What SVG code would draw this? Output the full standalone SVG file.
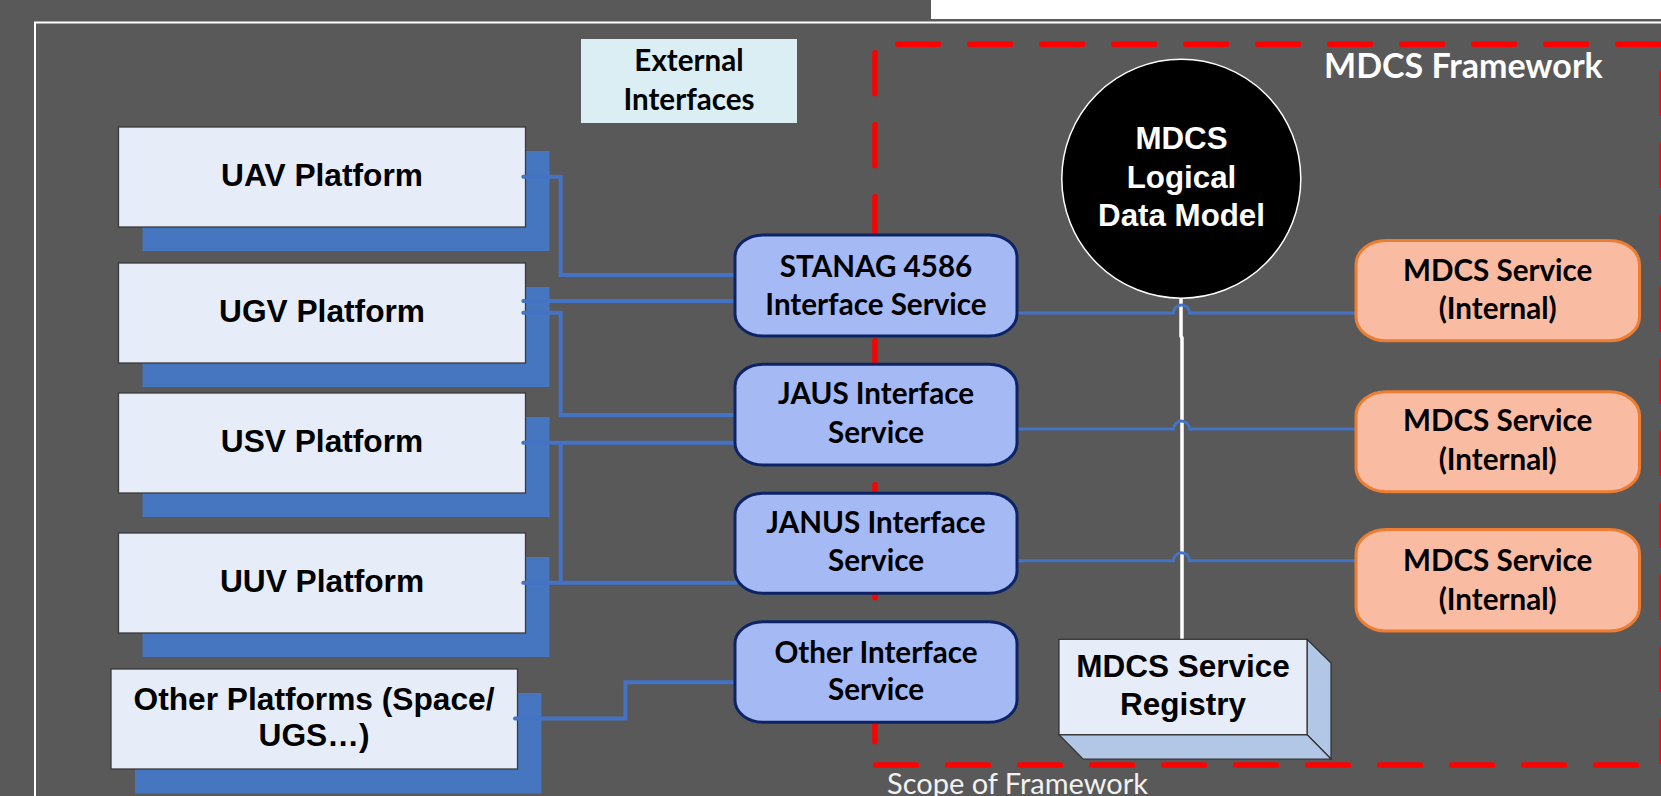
<svg xmlns="http://www.w3.org/2000/svg" width="1661" height="796" viewBox="0 0 1661 796">
<style>
.plat{fill:#E7EDF8;stroke:#3A3A3A;stroke-width:1.3}
.shadow{fill:#4676C0}
.ptxt{font-family:"Liberation Sans",Arial,sans-serif;font-weight:bold;font-size:31.7px;fill:#000;text-anchor:middle}
.iface{fill:#A5B9F5;stroke:#0C2466;stroke-width:3}
.svc{fill:#F9BBA1;stroke:#ED7D31;stroke-width:3}
.ctxt{font-family:Lato,"Open Sans",sans-serif;font-weight:bold;font-size:29.6px;fill:#000;text-anchor:middle}
.conn{fill:none;stroke:#4472C4;stroke-width:4;stroke-linecap:round}
.conn2{fill:none;stroke:#4472C4;stroke-width:3}
.red{fill:none;stroke:#FF0000;stroke-width:5.5;stroke-linecap:round;stroke-dasharray:41 31}
</style>
<rect width="1661" height="796" fill="#595959"/>
<rect x="931" y="0" width="730" height="19" fill="#FFFFFF"/>
<path d="M35 796 V22.5 H1661" fill="none" stroke="#FFFFFF" stroke-width="2"/>

<g id="scope-frame">
<path class="red" d="M897.75 44.3 H1661"/>
<path class="red" d="M875 52.75 V765"/>
<path class="red" d="M1662 72.75 V765"/>
<path class="red" d="M875.5 765 H1661"/>
<text x="887" y="794" font-family="Lato,'Open Sans',sans-serif" font-size="29" fill="#F2F2F2">Scope of Framework</text>
<text x="1324" y="78.3" font-family="Lato,'Open Sans',sans-serif" font-weight="bold" font-size="34" fill="#FFFFFF">MDCS Framework</text>
</g>

<g id="external-interfaces">
<rect x="581" y="39" width="216" height="84" fill="#DBEEF4"/>
<text class="ctxt" x="689" y="71">External</text>
<text class="ctxt" x="689" y="110">Interfaces</text>
</g>

<g id="uav">
<rect class="shadow" x="142.5" y="151" width="407" height="100"/>
<rect class="plat" x="118.5" y="127" width="407" height="100"/>
<text class="ptxt" x="322" y="186">UAV Platform</text>
</g>
<g id="ugv">
<rect class="shadow" x="142.5" y="287" width="407" height="100"/>
<rect class="plat" x="118.5" y="263" width="407" height="100"/>
<text class="ptxt" x="322" y="322">UGV Platform</text>
</g>
<g id="usv">
<rect class="shadow" x="142.5" y="417" width="407" height="100"/>
<rect class="plat" x="118.5" y="393" width="407" height="100"/>
<text class="ptxt" x="322" y="452">USV Platform</text>
</g>
<g id="uuv">
<rect class="shadow" x="142.5" y="557" width="407" height="100"/>
<rect class="plat" x="118.5" y="533" width="407" height="100"/>
<text class="ptxt" x="322" y="592">UUV Platform</text>
</g>
<g id="other-platforms">
<rect class="shadow" x="135" y="693" width="406.5" height="100.5"/>
<rect class="plat" x="111" y="669" width="406.5" height="100"/>
<text class="ptxt" x="314" y="710">Other Platforms (Space/</text>
<text class="ptxt" x="314" y="746">UGS…)</text>
</g>

<g id="connectors">
<path class="conn" d="M523.3 176.7 H560.7 V275 H736"/>
<path class="conn" d="M523.3 301 H736"/>
<path class="conn" d="M523.3 312.7 H560.7 V415 H736"/>
<path class="conn" d="M523.3 442.7 H736"/>
<path class="conn" d="M560.7 442.7 V582.7"/>
<path class="conn" d="M523.3 582.7 H736"/>
<path class="conn" d="M515 718.5 H625.4 V682.3 H736"/>
<path d="M1181 298 V336 L1182 338 V639" fill="none" stroke="#FFFFFF" stroke-width="3.5"/>
<path class="conn2" d="M1017 313 H1173.5 A8 8 0 0 1 1189.5 313 H1356"/>
<path class="conn2" d="M1017 429 H1173.5 A8 8 0 0 1 1189.5 429 H1356"/>
<path class="conn2" d="M1017 560.7 H1173.5 A8 8 0 0 1 1189.5 560.7 H1356"/>
</g>

<g id="stanag">
<rect class="iface" x="735" y="235" width="282" height="101" rx="28" ry="22"/>
<text class="ctxt" x="876" y="276.7">STANAG 4586</text>
<text class="ctxt" x="876" y="315">Interface Service</text>
</g>
<g id="jaus">
<rect class="iface" x="735" y="364.3" width="282" height="100.7" rx="28" ry="22"/>
<text class="ctxt" x="876" y="404.3">JAUS Interface</text>
<text class="ctxt" x="876" y="442.7">Service</text>
</g>
<g id="janus">
<rect class="iface" x="735" y="493.3" width="282" height="100" rx="28" ry="22"/>
<text class="ctxt" x="876" y="533.3">JANUS Interface</text>
<text class="ctxt" x="876" y="570.7">Service</text>
</g>
<g id="other-interface">
<rect class="iface" x="735" y="621.7" width="282" height="100.6" rx="28" ry="22"/>
<text class="ctxt" x="876" y="662.7">Other Interface</text>
<text class="ctxt" x="876" y="700">Service</text>
</g>

<g id="logical-data-model">
<circle cx="1181.3" cy="178.7" r="119.5" fill="#000000" stroke="#FFFFFF" stroke-width="1.5"/>
<text class="ptxt" x="1181.5" y="149" style="fill:#FFFFFF;font-size:31.3px">MDCS</text>
<text class="ptxt" x="1181.5" y="188" style="fill:#FFFFFF;font-size:31.3px">Logical</text>
<text class="ptxt" x="1181.5" y="225.7" style="fill:#FFFFFF;font-size:31.3px">Data Model</text>
</g>

<g id="service-1">
<rect class="svc" x="1356" y="240.5" width="283.5" height="100.3" rx="30" ry="24"/>
<text class="ctxt" x="1497.7" y="280.5">MDCS Service</text>
<text class="ctxt" x="1497.7" y="318.5">(Internal)</text>
</g>
<g id="service-2">
<rect class="svc" x="1356" y="391.7" width="283.5" height="100" rx="30" ry="24"/>
<text class="ctxt" x="1497.7" y="431.2">MDCS Service</text>
<text class="ctxt" x="1497.7" y="469.5">(Internal)</text>
</g>
<g id="service-3">
<rect class="svc" x="1356" y="529.5" width="283.5" height="101.5" rx="30" ry="24"/>
<text class="ctxt" x="1497.7" y="571.2">MDCS Service</text>
<text class="ctxt" x="1497.7" y="609.5">(Internal)</text>
</g>

<g id="registry">
<polygon points="1307,639.3 1331,663 1331,759 1307,734.7" fill="#B2C7E5" stroke="#2F2F2F" stroke-width="1.2"/>
<polygon points="1059,734.7 1307,734.7 1331,759 1083,759" fill="#B2C7E5" stroke="#2F2F2F" stroke-width="1.2"/>
<rect x="1059" y="639.3" width="248" height="95.4" fill="#E6EDF8" stroke="#2F2F2F" stroke-width="1.2"/>
<text class="ptxt" x="1183" y="676.7" style="font-size:31.5px">MDCS Service</text>
<text class="ptxt" x="1183" y="715" style="font-size:31.5px">Registry</text>
</g>
</svg>
